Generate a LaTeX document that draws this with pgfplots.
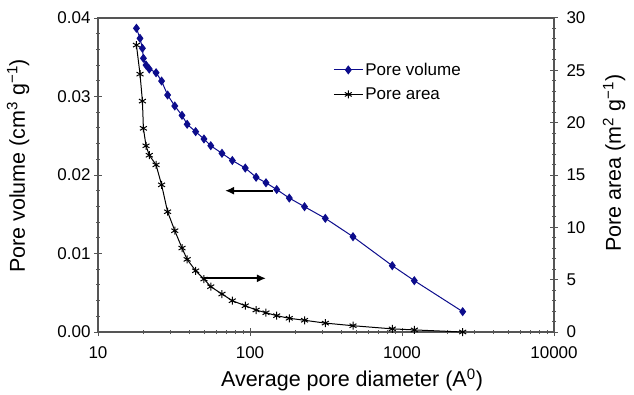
\documentclass[border=0pt]{standalone}
\usepackage{pgfplots}
\pgfplotsset{compat=1.18}
\usepackage{pgfplotstable}
\usepackage{fontspec}
\setmainfont{Liberation Sans}
\usetikzlibrary{arrows.meta}
\definecolor{pv}{RGB}{12,12,140}
\definecolor{axc}{RGB}{85,85,85}

\pgfplotstableread{
d vol area
17.9 0.03869 27.41
18.9 0.03741 24.64
19.6 0.03614 22.06
19.9 0.03487 19.46
20.7 0.03401 17.79
21.75 0.03350 16.89
24.1 0.03303 15.97
26.2 0.03197 14.06
28.7 0.03019 11.49
32.0 0.02879 9.68
35.7 0.02760 8.02
38.6 0.02646 6.94
43.9 0.02552 5.85
49.8 0.02459 5.06
55.2 0.02373 4.33
65.4 0.02276 3.63
76.5 0.02185 2.99
93.1 0.02089 2.51
109.7 0.01971 2.10
127.4 0.01901 1.84
149.9 0.01815 1.56
181.4 0.01706 1.31
228.4 0.01596 1.12
313 0.01448 0.85
476 0.01214 0.60
863 0.00845 0.30
1205 0.00654 0.20
2508 0.00259 0.00
}\datatable

\begin{document}
\begin{tikzpicture}
\begin{axis}[
  scale only axis, width=456pt, height=314pt, at={(0,0)}, anchor=south west,
  xmode=log, xmin=10, xmax=10000,
  tick align=center, major tick length=8pt, minor tick length=4pt,
  axis line style={axc, line width=1.1pt},
  tick style={axc, line width=1pt},
  tick label style={font=\fontsize{17}{20}\selectfont},
  label style={font=\fontsize{21.5}{25}\selectfont},
  tick pos=left,
  scaled y ticks=false,
  ymin=0, ymax=0.04,
  ytick={0,0.01,0.02,0.03,0.04},
  yticklabels={0.00,0.01,0.02,0.03,0.04},
  minor y tick num=4,
  xtick={10,100,1000,10000},
  xticklabels={10,100,1000,10000},
  xticklabel style={yshift=-7pt},
  minor xtick={20,30,40,50,60,70,80,90,200,300,400,500,600,700,800,900,2000,3000,4000,5000,6000,7000,8000,9000},
  xlabel={Average pore diameter (A\textsuperscript{0})},
  xlabel style={at={(axis description cs:0.557,-0.153)}, anchor=center},
  ylabel={Pore volume (cm\textsuperscript{3} g\textsuperscript{−1})},
  ylabel style={at={(axis description cs:-0.175,0.529)}, anchor=center},
]
\addplot[pv, line width=1pt, mark=diamond*, mark size=3.8pt, mark options={fill=pv, draw=pv}]
  table[x=d, y=vol] {\datatable};
\draw[-{Latex[length=9pt,width=8pt]}, line width=2pt] (axis cs:141.6,0.0180) -- (axis cs:68.5,0.0180);
\draw[-{Latex[length=9pt,width=8pt]}, line width=2pt] (axis cs:49.8,0.00684) -- (axis cs:127.4,0.00684);
\end{axis}
\begin{axis}[
  scale only axis, width=456pt, height=314pt, at={(0,0)}, anchor=south west,
  xmode=log, xmin=10, xmax=10000,
  tick align=center, major tick length=8pt, minor tick length=4pt,
  axis line style={axc, line width=1.1pt},
  tick style={axc, line width=1pt},
  tick label style={font=\fontsize{17}{20}\selectfont},
  label style={font=\fontsize{21.5}{25}\selectfont},
  axis x line=none, axis y line*=right,
  ymin=0, ymax=30,
  ytick={0,5,10,15,20,25,30},
  yticklabels={0,5,10,15,20,25,30},
  yticklabel style={xshift=5pt},
  minor y tick num=4,
  ylabel={Pore area (m\textsuperscript{2} g\textsuperscript{−1})},
  ylabel style={at={(axis description cs:1.1316,0.538)}, anchor=center},
  legend style={draw=none, fill=none, at={(0.509,0.87)}, anchor=north west,
    font=\fontsize{17}{20}\selectfont, row sep=7pt},
  legend cell align=left,
  legend image code/.code={\draw[mark repeat=2,mark phase=2,#1] plot coordinates {(0pt,0pt) (14.5pt,0pt) (29pt,0pt)};},
]
\addlegendimage{pv, line width=1pt, mark=diamond*, mark size=3.8pt, mark options={fill=pv, draw=pv}}
\addlegendentry{Pore volume}
\addplot[black, line width=1pt, mark=asterisk, mark size=4pt, mark options={line width=1pt}]
  table[x=d, y=area] {\datatable};
\addlegendentry{Pore area}
\end{axis}
\pgfresetboundingbox
\path[use as bounding box] (-98pt,-62pt) rectangle (536pt,332pt);
\end{tikzpicture}
\end{document}
